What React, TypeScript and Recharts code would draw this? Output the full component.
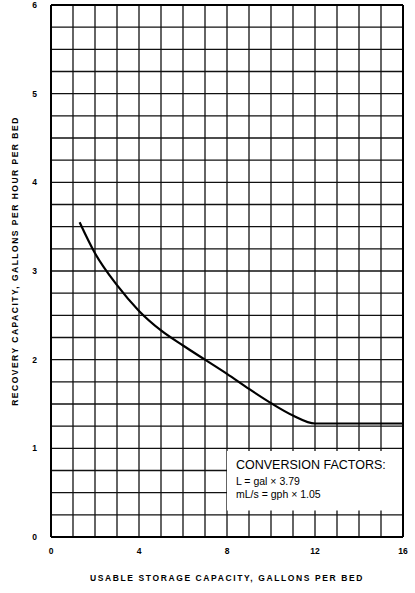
import { LineChart, Line, XAxis, YAxis, CartesianGrid, ReferenceArea, ReferenceLine } from "recharts";

// usable storage capacity (gal per bed) vs recovery capacity (gph per bed)
const capacity = [1.3, 2, 3, 4, 5, 6, 7, 8, 9, 10, 11, 12, 16];
const recovery = [3.55, 3.2, 2.84, 2.55, 2.33, 2.16, 2.0, 1.84, 1.67, 1.51, 1.37, 1.28, 1.28];

const xTicks = [0, 1, 2, 3, 4, 5, 6, 7, 8, 9, 10, 11, 12, 13, 14, 15, 16];
const yTicks = [
  0, 0.25, 0.5, 0.75, 1, 1.25, 1.5, 1.75, 2, 2.25, 2.5, 2.75, 3, 3.25, 3.5, 3.75, 4, 4.25, 4.5, 4.75, 5,
  5.25, 5.5, 5.75, 6,
];

const conversionLines = ["L = gal \u00d7 3.79", "mL/s = gph \u00d7 1.05"];

const data = capacity.map((c, i) => ({ cap: c, rec: recovery[i] }));

const FONT = "'Liberation Sans', Arial, sans-serif";
const tickStyle = { fill: "#000", fontSize: 8.5, fontWeight: 700, fontFamily: FONT };

const ConversionBox = (props: any) => {
  const vb = props.viewBox || { x: 0, y: 0 };
  return (
    <g fontFamily={FONT} fill="#000">
      <text x={vb.x + 9} y={vb.y + 18} fontSize={12.5}>
        CONVERSION FACTORS:
      </text>
      {conversionLines.map((t, i) => (
        <text key={t} x={vb.x + 9} y={vb.y + 34 + i * 13} fontSize={10.5}>
          {t}
        </text>
      ))}
    </g>
  );
};

export default function App() {
  return (
    <div style={{ position: "absolute", left: 0, top: 0, background: "#fff" }}>
      <LineChart width={415} height={593} data={data} margin={{ top: 5, right: 12, bottom: 0, left: 0 }}>
        <CartesianGrid stroke="#111" strokeWidth={1.3} />
        <XAxis
          dataKey="cap"
          type="number"
          domain={[0, 16]}
          ticks={xTicks}
          interval={0}
          height={56}
          tickSize={0}
          tickMargin={11}
          axisLine={{ stroke: "#000", strokeWidth: 2 }}
          tick={tickStyle}
          tickFormatter={(v: number) => (v % 4 === 0 ? String(v) : "")}
          label={{
            value: "USABLE STORAGE CAPACITY, GALLONS PER BED",
            position: "insideBottom",
            offset: 12,
            fill: "#000",
            fontSize: 8.5,
            fontWeight: 700,
            fontFamily: FONT,
            letterSpacing: 1.6,
          }}
        />
        <YAxis
          type="number"
          domain={[0, 6]}
          ticks={yTicks}
          interval={0}
          width={51}
          tickSize={0}
          tickMargin={14}
          axisLine={{ stroke: "#000", strokeWidth: 2 }}
          tick={tickStyle}
          tickFormatter={(v: number) => (Number.isInteger(v) ? String(v) : "")}
          label={{
            content: () => (
              <text
                transform="translate(15,261) rotate(-90)"
                textAnchor="middle"
                dominantBaseline="central"
                fontSize={8.5}
                fontWeight={700}
                fontFamily={FONT}
                letterSpacing={1.5}
                fill="#000"
              >
                RECOVERY CAPACITY, GALLONS PER HOUR PER BED
              </text>
            ),
          }}
        />
        <ReferenceLine y={6} stroke="#000" strokeWidth={2} />
        <ReferenceLine x={16} stroke="#000" strokeWidth={2} />
        <ReferenceArea
          x1={8}
          x2={16}
          y1={0.3}
          y2={0.97}
          fill="#fff"
          fillOpacity={1}
          stroke="none"
          label={<ConversionBox />}
        />
        <Line
          type="monotone"
          dataKey="rec"
          stroke="#000"
          strokeWidth={2.2}
          dot={false}
          isAnimationActive={false}
        />
      </LineChart>
    </div>
  );
}
